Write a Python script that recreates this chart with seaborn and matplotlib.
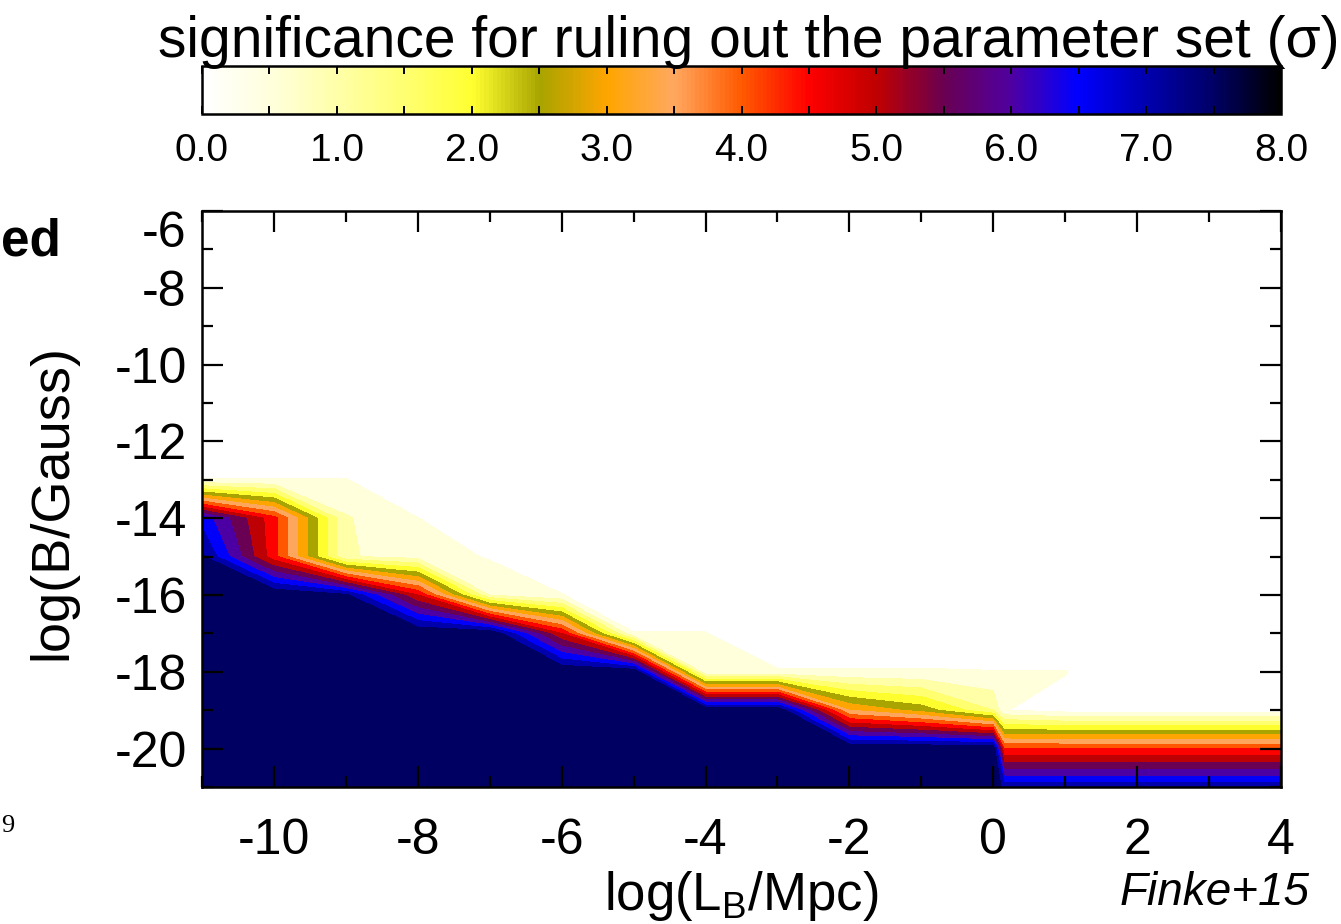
import numpy as np
import matplotlib
matplotlib.use("Agg")
import matplotlib.pyplot as plt
import seaborn as sns
from matplotlib.colors import LinearSegmentedColormap, Normalize
from matplotlib.cm import ScalarMappable
from matplotlib.ticker import MultipleLocator, FixedLocator

sns.set_style("ticks")
plt.rcParams['font.family'] = ['Liberation Sans', 'DejaVu Sans']
plt.rcParams['mathtext.default'] = 'regular'
plt.rcParams['text.color'] = 'black'
plt.rcParams['xtick.color'] = 'black'
plt.rcParams['ytick.color'] = 'black'
plt.rcParams['axes.axisbelow'] = False

# ---- data: grid of significance (sigma) ----
log_LB = [-11, -10, -9, -8, -7, -6, -5, -4, -3, -2, -1, 0, 0.15, 1, 2, 3, 4]
log_B = [-6, -7, -8, -9, -10, -11, -12, -13, -14, -15, -16, -17, -18, -19, -20, -21]

sig_above = [0] * 17  # rows -6 ... -12 (white)
sig_m13 = [0.52, 0.52, 0.52, 0, 0, 0, 0, 0, 0, 0, 0, 0, 0, 0, 0, 0, 0]
sig_m14 = [6.8, 4.7, 1.05, 0.51, 0, 0, 0, 0, 0, 0, 0, 0, 0, 0, 0, 0, 0]
sig_m15 = [7.6, 4.7, 1.05, 0.8, 0.45, 0, 0, 0, 0, 0, 0, 0, 0, 0, 0, 0, 0]
sig_m16 = [8, 8, 7.6, 5.0, 1.0, 0.52, 0, 0, 0, 0, 0, 0, 0, 0, 0, 0, 0]
sig_m17 = [8, 8, 8, 8, 8, 5.0, 0.52, 0.52, 0, 0, 0, 0, 0, 0, 0, 0, 0]
sig_m18 = [8, 8, 8, 8, 8, 8, 8, 0.55, 0.55, 0.55, 0.55, 0.52, 0.52, 0.52, 0, 0, 0]
sig_m19 = [8, 8, 8, 8, 8, 8, 8, 8, 8, 3.5, 2.8, 1.5, 0.52, 0.3, 0.3, 0.3, 0.3]
sig_m20 = [8, 8, 8, 8, 8, 8, 8, 8, 8, 8, 8, 8, 4.5, 4.5, 4.5, 4.5, 4.5]
sig_m21 = [8, 8, 8, 8, 8, 8, 8, 8, 8, 8, 8, 8, 7.3, 7.3, 7.3, 7.3, 7.3]

cbar_ticks = [0, 1, 2, 3, 4, 5, 6, 7, 8]
cbar_labels = ["0.0", "1.0", "2.0", "3.0", "4.0", "5.0", "6.0", "7.0", "8.0"]
x_ticks = [-10, -8, -6, -4, -2, 0, 2, 4]
y_ticks = [-20, -18, -16, -14, -12, -10, -8, -6]

# colour anchors of the colour bar (sigma value, colour)
cmap_pos = [0.0, 0.5, 1.0, 1.5, 2.0, 2.5, 3.0, 3.5, 4.0, 4.5, 5.0, 5.5, 6.0, 6.5, 7.0, 7.5, 8.0]
cmap_col = ['#ffffff', '#ffffdc', '#ffffa8', '#ffff70', '#ffff30', '#a8a400',
            '#ffa500', '#ffa860', '#ff5a00', '#ff0000', '#c00000', '#6a0050',
            '#5000a0', '#0000ff', '#0000b0', '#000068', '#000000']

cmap = LinearSegmentedColormap.from_list(
    'sig', list(zip([p / 8.0 for p in cmap_pos], cmap_col)))

Z = np.array([sig_above] * 7 + [sig_m13, sig_m14, sig_m15, sig_m16,
                                sig_m17, sig_m18, sig_m19, sig_m20, sig_m21])
X, Y = np.meshgrid(log_LB, log_B)

levels = np.arange(0, 8.01, 0.5)
band_colors = [cmap(lv / 8.0) for lv in levels[:-1]]

W, H = 1341, 924
fig = plt.figure(figsize=(W / 100, H / 100), dpi=100)
ax = fig.add_axes([202 / W, (H - 787) / H, 1079 / W, 576 / H])
cax = fig.add_axes([202 / W, (H - 114) / H, 1079 / W, 48 / H])

ax.contourf(X, Y, Z, levels=levels, colors=band_colors, antialiased=False,
            zorder=0)
ax.set_axisbelow(False)
ax.set_xlim(-11, 4)
ax.set_ylim(-21, -6)
ax.xaxis.set_major_locator(FixedLocator(x_ticks))
ax.yaxis.set_major_locator(FixedLocator(y_ticks))
ax.xaxis.set_minor_locator(MultipleLocator(1))
ax.yaxis.set_minor_locator(MultipleLocator(1))
ax.set_xticklabels([str(t) for t in x_ticks])
ax.set_yticklabels([str(t) for t in y_ticks])
ax.tick_params(which='both', direction='in', top=True, right=True, width=1.6,
               colors='black')
ax.tick_params(which='major', length=15)
ax.tick_params(which='minor', length=8)
ax.tick_params(axis='x', labelsize=36, pad=22)
ax.tick_params(axis='y', labelsize=36, pad=11)
for s in ax.spines.values():
    s.set_linewidth(1.8)
    s.set_color('black')
    s.set_zorder(5)
for lab in ax.get_yticklabels():
    if lab.get_text() == '-6':
        lab.set_va('top')

# colour bar
sm = ScalarMappable(norm=Normalize(0, 8), cmap=cmap)
cb = fig.colorbar(sm, cax=cax, orientation='horizontal')
cb.set_ticks(cbar_ticks)
cb.set_ticklabels(cbar_labels)
cax.set_axisbelow(False)
cax.xaxis.set_minor_locator(MultipleLocator(0.5))
cax.tick_params(which='both', direction='in', top=True, bottom=True,
                labeltop=False, labelbottom=True, length=6, width=1.4,
                labelsize=28, pad=14, colors='black')
cb.outline.set_linewidth(1.8)
cb.outline.set_edgecolor('black')

fig.text(749 / W, 1 - 57 / H, 'significance for ruling out the parameter set (σ)',
         ha='center', va='baseline', fontsize=41)
fig.text(741 / W, 1 - 910 / H, 'log(L$_B$/Mpc)', ha='center', va='baseline',
         fontsize=38)
fig.text(52 / W, 1 - 502 / H, 'log(B/Gauss)', ha='center', va='center',
         rotation=90, fontsize=39)
fig.text(1310 / W, 1 - 905 / H, 'Finke+15', ha='right', va='baseline',
         fontsize=33, style='italic')
fig.text(1 / W, 1 - 255 / H, 'ed', ha='left', va='baseline', fontsize=37,
         fontweight='bold')
fig.text(1 / W, 1 - 832 / H, '9', ha='left', va='baseline', fontsize=19,
         family=['Liberation Serif', 'DejaVu Serif'])

fig.savefig('out.png', dpi=100)
